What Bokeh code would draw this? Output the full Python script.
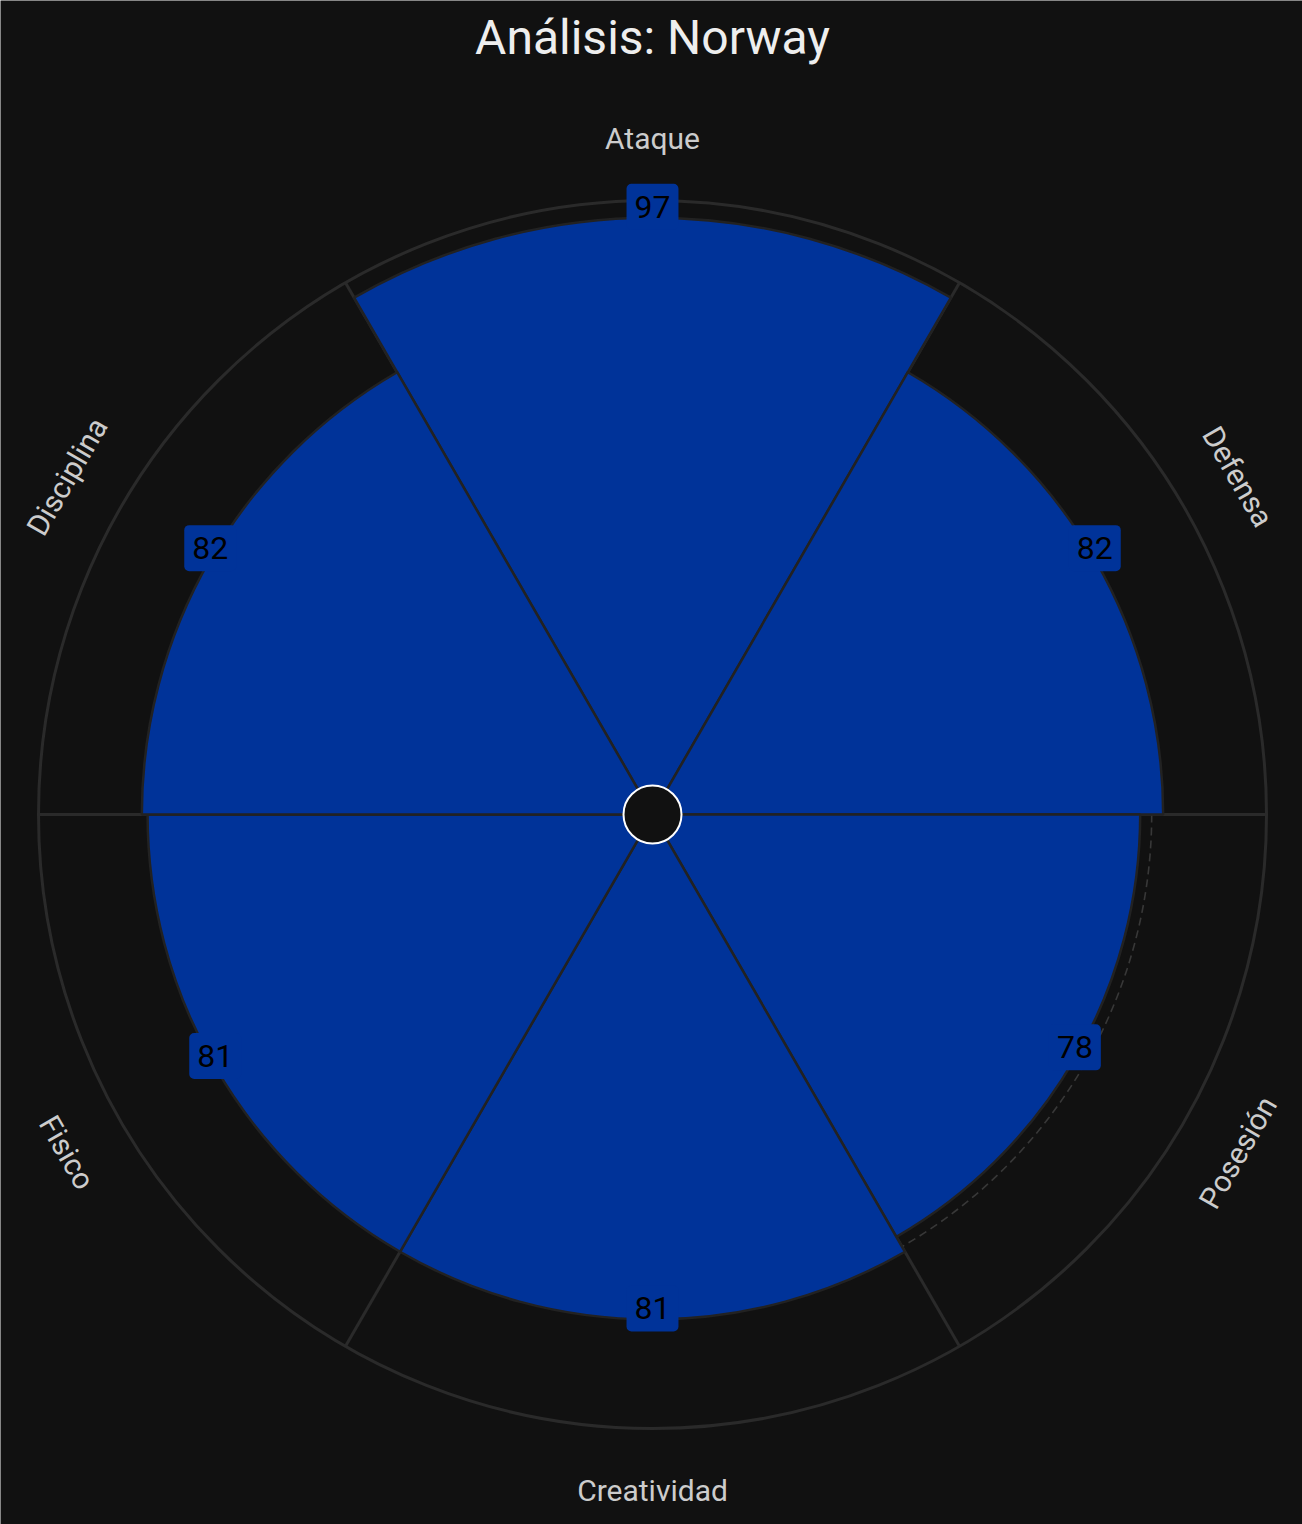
import numpy as np
from bokeh.plotting import figure
from bokeh.models import Range1d, ColumnDataSource
from bokeh.embed import file_html
from bokeh.resources import INLINE
from bokeh.core.properties import value

# ---- data ----
title_text = "Análisis: Norway"
categories = ["Ataque", "Defensa", "Posesión", "Creatividad", "Fisico", "Disciplina"]
scores = [97, 82, 78, 81, 81, 82]
reference_level = 80
radial_max = 100

# ---- styling ----
BG = "#111111"
BAR = "#003399"
GRID = "#2a2a2a"
FONT = "Roboto"

W, H = 1302, 1524
p = figure(width=W, height=H, output_backend="svg", toolbar_location=None,
           x_range=Range1d(-652, 650), y_range=Range1d(-710, 814),
           min_border=0, background_fill_color=BG, border_fill_color=BG)
p.axis.visible = False
p.grid.visible = False
p.outline_line_color = None

R0, R100 = 40.0, 614.0


def rad(v):
    return R0 + (R100 - R0) * np.asarray(v, dtype=float) / radial_max


n = len(categories)
step = 360.0 / n
centers = np.array([90.0 - step * i for i in range(n)])
starts = np.deg2rad(centers - step / 2)
ends = np.deg2rad(centers + step / 2)
radii = rad(scores)

# grid: spokes + outer ring
Rmax = float(rad(radial_max))
p.segment(x0=np.zeros(n), y0=np.zeros(n), x1=Rmax * np.cos(starts), y1=Rmax * np.sin(starts),
          line_color=GRID, line_width=3)
p.circle(x=[0], y=[0], radius=[Rmax], fill_color=None, line_color=GRID, line_width=3)

# reference dashed ring
p.circle(x=[0], y=[0], radius=[float(rad(reference_level))], fill_color=None,
         line_color="#383838", line_width=1.6, line_dash="8 5")

# bars
src = ColumnDataSource(dict(r=radii, s=starts, e=ends))
p.wedge(x=0, y=0, radius="r", start_angle="s", end_angle="e",
        direction="anticlock", source=src, fill_color=BAR, line_color="#222222", line_width=2.5)

# center hole
p.circle(x=[0], y=[0], radius=[29], fill_color=BG, line_color="white", line_width=2)

# value labels at bar tips (boxed)
th = np.deg2rad(centers)
p.text(x=radii * np.cos(th), y=radii * np.sin(th) + 11, text=[str(s) for s in scores],
       text_font=value(FONT), text_font_size="32px", text_color="black",
       text_align="center", text_baseline="middle",
       background_fill_color=BAR, border_radius=5, padding=(8, 12))

# category labels
RL = 676.0
rots = np.where(np.sin(th) > 0.01, centers - 90, centers + 90)
p.text(x=RL * np.cos(th), y=RL * np.sin(th), text=categories, angle=np.deg2rad(rots),
       text_font=value(FONT), text_font_size="30px", text_color="#cccccc",
       text_align="center", text_baseline="middle")

# title
p.text(x=[0], y=[777], text=[title_text], text_font=value(FONT), text_font_size="48px",
       text_color="#eeeeee", text_align="center", text_baseline="middle")

open("out.html", "w").write(file_html(p, INLINE))
